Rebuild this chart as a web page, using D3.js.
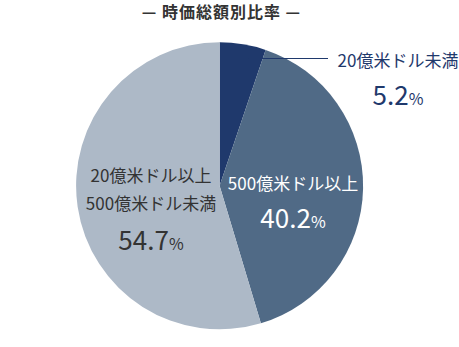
<!DOCTYPE html>
<html><head><meta charset="utf-8">
<script src="https://cdn.jsdelivr.net/npm/d3@7"></script>
<style>
html,body{margin:0;padding:0;background:#fff;}
svg{display:block;font-family:"Noto Sans CJK JP","Noto Sans",sans-serif;}
</style></head>
<body>
<svg id="c" width="459" height="347"></svg>
<script>
const title = "— 時価総額別比率 —";
const categories = ["20億米ドル未満", "500億米ドル以上", "20億米ドル以上\n500億米ドル未満"];
const values = [5.2, 40.2, 54.7];
const colors = ["#1f396c", "#506a86", "#adb9c7"];

const svg = d3.select("#c");
const cx = 219.6, cy = 185.8, r = 143.5;

svg.append("text").attr("x", 221.5).attr("y", 18).attr("text-anchor", "middle")
  .attr("font-size", 16).attr("font-weight", "bold").attr("fill", "#333")
  .attr("letter-spacing", "1px").text(title);

const pie = d3.pie().sort(null).value(d => d)(values);
const arc = d3.arc().innerRadius(0).outerRadius(r);
const g = svg.append("g").attr("transform", `translate(${cx},${cy})`);
g.selectAll("path").data(pie).join("path").attr("d", arc).attr("fill", (d, i) => colors[i]);

// leader line for small slice
const a0 = (pie[0].startAngle + pie[0].endAngle) / 2;
svg.append("line")
  .attr("x1", cx + Math.sin(a0 + 0.04) * (r - 2)).attr("y1", 58.5)
  .attr("x2", 328).attr("y2", 58.5)
  .attr("stroke", "#1f396c").attr("stroke-width", 1);

function label(x, lines, ly, pct, py, fill) {
  const t = svg.append("g").attr("fill", fill);
  lines.forEach((l, k) => {
    t.append("text").attr("x", x).attr("y", ly + k * 28).attr("text-anchor", "middle")
      .attr("font-size", 17).text(l);
  });
  const p = t.append("text").attr("x", x).attr("y", py).attr("text-anchor", "middle");
  p.append("tspan").attr("font-size", 26).text(d3.format(".1f")(pct));
  p.append("tspan").attr("font-size", 16).text("%");
}
label(398, categories[0].split("\n"), 67, values[0], 105, "#1f396c");
label(293, categories[1].split("\n"), 190, values[1], 228, "#ffffff");
label(151, categories[2].split("\n"), 182, values[2], 250, "#333333");
</script>
</body></html>
